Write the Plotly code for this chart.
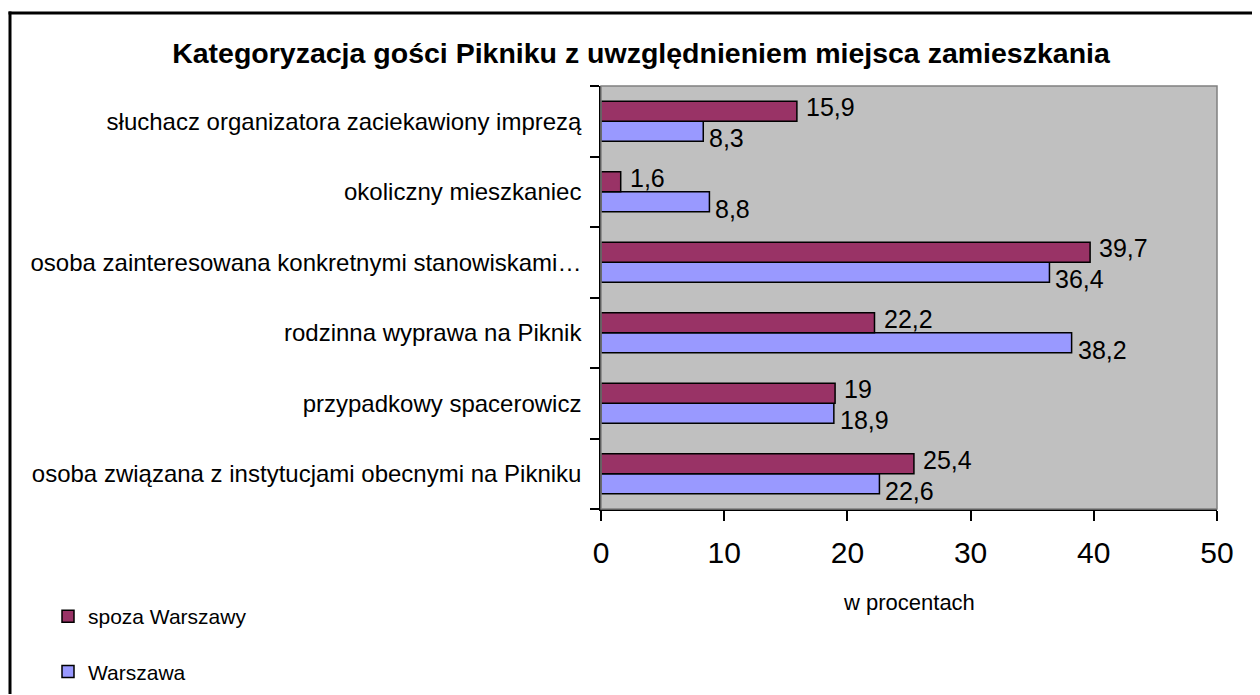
import plotly.graph_objects as go

# ---- data (bottom category first, as Plotly draws horizontal bars bottom-up)
categories = [
    "osoba związana z instytucjami obecnymi na Pikniku",
    "przypadkowy spacerowicz",
    "rodzinna wyprawa na Piknik",
    "osoba zainteresowana konkretnymi stanowiskami…",
    "okoliczny mieszkaniec",
    "słuchacz organizatora zaciekawiony imprezą",
]
warszawa = [22.6, 18.9, 38.2, 36.4, 8.8, 8.3]
spoza_warszawy = [25.4, 19, 22.2, 39.7, 1.6, 15.9]
series_names = ["Warszawa", "spoza Warszawy"]
x_ticks = [0, 10, 20, 30, 40, 50]

title_text = "Kategoryzacja gości Pikniku z uwzględnieniem miejsca zamieszkania"
x_title = "w procentach"

# ---- style / layout
OFF = 8  # the page body margin shifts the figure by 8 px
W, H = 1260 - OFF, 695 - OFF
# plot area in page pixels
PL, PR, PT, PB = 601, 1217, 86, 509
FONT = "Liberation Sans, Arial, sans-serif"
col_w = "#9999FF"
col_s = "#993366"


def fmt(v):
    return ("%g" % v).replace(".", ",")


fig = go.Figure()
fig.add_trace(go.Bar(
    y=categories, x=warszawa, orientation="h", name=series_names[0],
    marker=dict(color=col_w, line=dict(color="black", width=1.5)),
    legendgroup="a", legendrank=2,
))
fig.add_trace(go.Bar(
    y=categories, x=spoza_warszawy, orientation="h", name=series_names[1],
    marker=dict(color=col_s, line=dict(color="black", width=1.5)),
    legendgroup="b", legendrank=1,
))

annotations = []
for cat, v in zip(categories, warszawa):
    annotations.append(dict(x=v, y=cat, text=fmt(v), showarrow=False,
                            xanchor="left", yanchor="middle", xshift=4, yshift=-17,
                            font=dict(family=FONT, size=25, color="black")))
for cat, v in zip(categories, spoza_warszawy):
    annotations.append(dict(x=v, y=cat, text=fmt(v), showarrow=False,
                            xanchor="left", yanchor="middle", xshift=7, yshift=14,
                            font=dict(family=FONT, size=25, color="black")))

pw, ph = PR - PL, PB - PT
def px_x(p):
    return (p - PL) / pw
def px_y(p):
    return (PB - p) / ph

# axis title
annotations.append(dict(x=px_x(909), y=px_y(602), xref="paper", yref="paper",
                        text=x_title, showarrow=False,
                        xanchor="center", yanchor="middle",
                        font=dict(family=FONT, size=22, color="black")))

shapes = [
    # outer chart border: only top and left edges are inside the picture
    dict(type="line", xref="paper", yref="paper",
         x0=px_x(8.5), x1=px_x(1259), y0=px_y(13), y1=px_y(13),
         line=dict(color="black", width=3), layer="below"),
    dict(type="line", xref="paper", yref="paper",
         x0=px_x(10), x1=px_x(10), y0=px_y(11.5), y1=px_y(694),
         line=dict(color="black", width=3), layer="below"),
    # plot area border
    dict(type="rect", xref="paper", yref="paper", x0=0, x1=1, y0=0, y1=1,
         line=dict(color="#808080", width=1.5), fillcolor="rgba(0,0,0,0)", layer="above"),
]

fig.update_layout(
    width=W, height=H,
    margin=dict(l=PL - OFF, r=W - (PR - OFF), t=PT - OFF, b=H - (PB - OFF), pad=0,
                autoexpand=False),
    paper_bgcolor="white", plot_bgcolor="#C0C0C0",
    barmode="group", bargap=0.43, bargroupgap=0,
    font=dict(family=FONT, color="black"),
    title=dict(text="<b>" + title_text + "</b>", x=(641 - OFF) / W, xref="container",
               xanchor="center", y=1 - (53 - OFF) / H, yref="container", yanchor="middle",
               font=dict(family=FONT, size=28.5, color="black")),
    legend=dict(xref="container", yref="container", x=(48 - OFF) / W, y=1 - (596 - OFF) / H,
                xanchor="left", yanchor="top", traceorder="grouped",
                font=dict(family=FONT, size=21, color="black"),
                tracegroupgap=25, itemwidth=30, bgcolor="rgba(0,0,0,0)"),
    annotations=annotations,
    shapes=shapes,
)

fig.update_xaxes(range=[0, 50], tickvals=x_ticks, ticks="outside", ticklen=10,
                 tickcolor="black", tickwidth=1.5, showgrid=False, zeroline=False,
                 showline=True, linecolor="black", linewidth=1.5, automargin=False,
                 tickfont=dict(family=FONT, size=30, color="black"),
                 ticklabelstandoff=6)
fig.update_yaxes(type="category", ticks="outside", ticklen=9, tickson="boundaries",
                 tickcolor="black", tickwidth=1.5, showgrid=False, automargin=False,
                 showline=True, linecolor="black", linewidth=1.5,
                 tickfont=dict(family=FONT, size=24, color="black"),
                 ticklabelstandoff=13)

fig.write_html("out.html")
